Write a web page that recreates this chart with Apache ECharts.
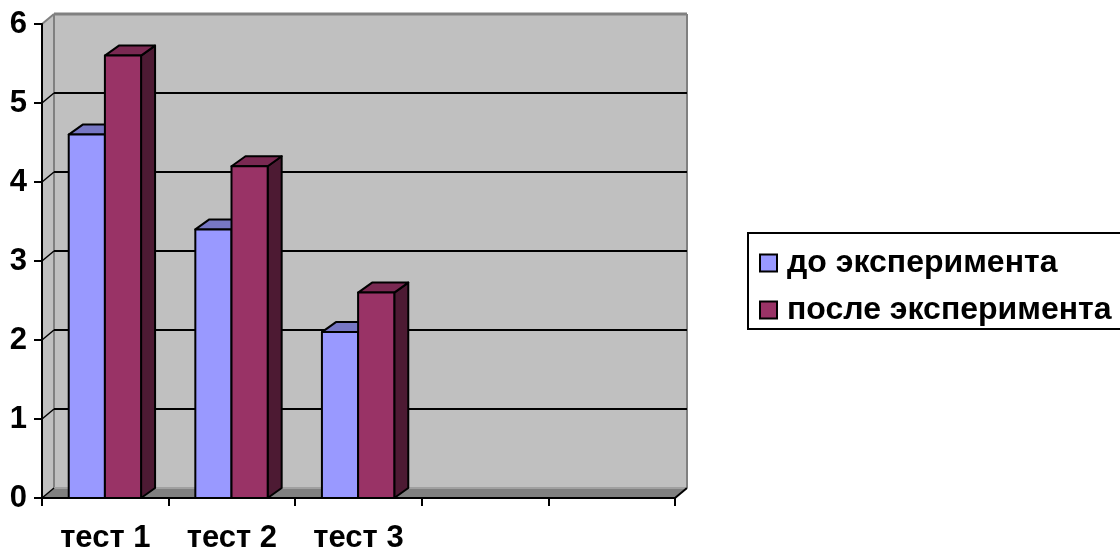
<!DOCTYPE html>
<html>
<head>
<meta charset="utf-8">
<style>html,body{margin:0;padding:0;background:#fff;overflow:hidden}#chart{width:1120px;height:549px}</style>
<script src="https://cdn.jsdelivr.net/npm/echarts@6/dist/echarts.min.js"></script>
</head>
<body>
<div id="chart"></div>
<script>
// Test scores before and after the experiment, drawn as pseudo-3D columns.
const categories = ['тест 1', 'тест 2', 'тест 3', '', ''];
const beforeName = 'до эксперимента';
const afterName = 'после эксперимента';
const beforeValues = [4.6, 3.4, 2.1];
const afterValues = [5.6, 4.2, 2.6];
const yTicks = [0, 1, 2, 3, 4, 5, 6];

const FONT = '"Liberation Sans", Arial, sans-serif';
const WALL_DX = 12, WALL_DY = 10;   // offset of the back wall from the axis plane
const BAR_DX = 14, BAR_DY = 10;     // depth of a column
const GAP_RATIO = 1.5;              // space between clusters, in column widths

const chart = echarts.init(document.getElementById('chart'), null, { renderer: 'canvas' });

function poly(points, fill, stroke, lineWidth) {
  return {
    type: 'polygon',
    shape: { points },
    style: { fill: fill, stroke: stroke || null, lineWidth: lineWidth || 0 }
  };
}
function seg(x1, y1, x2, y2, stroke, lineWidth) {
  return {
    type: 'line',
    shape: { x1, y1, x2, y2 },
    style: { stroke, lineWidth, fill: null }
  };
}

// Back wall, side wall, floor and the gridlines running across them.
function renderWalls(params, api) {
  const cs = params.coordSys;
  const left = cs.x, right = cs.x + cs.width;
  const y0 = api.coord([0, yTicks[0]])[1];
  const yTop = api.coord([0, yTicks[yTicks.length - 1]])[1];
  const children = [
    poly([[left + WALL_DX, yTop - WALL_DY], [right + WALL_DX, yTop - WALL_DY],
          [right + WALL_DX, y0 - WALL_DY], [left + WALL_DX, y0 - WALL_DY]], '#c0c0c0'),
    poly([[left, yTop], [left + WALL_DX, yTop - WALL_DY],
          [left + WALL_DX, y0 - WALL_DY], [left, y0]], '#c0c0c0'),
    poly([[left, y0], [left + WALL_DX, y0 - WALL_DY],
          [right + WALL_DX, y0 - WALL_DY], [right, y0]], '#808080'),
    seg(left, yTop, left + WALL_DX, yTop - WALL_DY, '#808080', 2),
    seg(left + WALL_DX, yTop - WALL_DY, right + WALL_DX, yTop - WALL_DY, '#808080', 3),
    seg(left + WALL_DX, yTop - WALL_DY, left + WALL_DX, y0 - WALL_DY, '#808080', 2),
    seg(right + WALL_DX, yTop - WALL_DY, right + WALL_DX, y0 - WALL_DY, '#808080', 2),
    seg(left + WALL_DX, y0 - WALL_DY, right + WALL_DX, y0 - WALL_DY, '#a0a0a0', 2),
    seg(left, y0, left + WALL_DX, y0 - WALL_DY, '#000', 1.5),
    seg(right, y0, right + WALL_DX, y0 - WALL_DY, '#000', 2)
  ];
  yTicks.slice(1, -1).forEach(function (t) {
    const y = api.coord([0, t])[1];
    children.push(seg(left, y, left + WALL_DX, y - WALL_DY, '#000', 1.5));
    children.push(seg(left + WALL_DX, y - WALL_DY, right + WALL_DX, y - WALL_DY, '#000', 2));
  });
  return { type: 'group', children };
}

// One column: front face, top face and right side, placed in its cluster slot.
function columnRenderer(slot, front, top, side) {
  return function (params, api) {
    const idx = api.value(0);
    const base = api.coord([idx, 0]);
    const head = api.coord([idx, api.value(1)]);
    const w = api.size([1, 0])[0] / (2 + GAP_RATIO);
    const x0 = base[0] - w + slot * w - 0.4;
    const x1 = x0 + w;
    const yb = base[1], yt = head[1];
    const line = { stroke: '#000', lineWidth: 2, lineJoin: 'round' };
    const face = function (pts, fill) {
      return { type: 'polygon', shape: { points: pts }, style: Object.assign({ fill }, line) };
    };
    return {
      type: 'group',
      children: [
        face([[x1, yt], [x1 + BAR_DX, yt - BAR_DY], [x1 + BAR_DX, yb - BAR_DY], [x1, yb]], side),
        face([[x0, yt], [x0 + BAR_DX, yt - BAR_DY], [x1 + BAR_DX, yt - BAR_DY], [x1, yt]], top),
        face([[x0, yt], [x1, yt], [x1, yb], [x0, yb]], front)
      ]
    };
  };
}

const toPairs = function (values) {
  return values.map(function (v, i) { return [i, v]; });
};

chart.setOption({
  animation: false,
  backgroundColor: '#fff',
  grid: { left: 42, top: 24, width: 633, height: 474, containLabel: false, outerBoundsMode: 'none' },
  legend: {
    left: 748,
    top: 233,
    orient: 'vertical',
    padding: [14, 60, 3, 11],
    borderColor: '#000',
    borderWidth: 2,
    itemWidth: 17,
    itemHeight: 17,
    itemGap: 15,
    selectedMode: false,
    textStyle: { fontFamily: FONT, fontWeight: 'bold', fontSize: 32, color: '#000', padding: [0, 0, 0, 5] },
    data: [
      { name: beforeName, icon: 'rect', itemStyle: { color: '#9999ff', borderColor: '#000', borderWidth: 2 } },
      { name: afterName, icon: 'rect', itemStyle: { color: '#993366', borderColor: '#000', borderWidth: 2 } }
    ]
  },
  xAxis: {
    type: 'category',
    data: categories,
    z: 3,
    axisLine: { lineStyle: { color: '#000', width: 2 } },
    axisTick: { show: true, alignWithLabel: false, length: 8, lineStyle: { color: '#000', width: 2 } },
    axisLabel: { interval: 0, margin: 25, fontFamily: FONT, fontWeight: 'bold', fontSize: 31, color: '#000' },
    splitLine: { show: false }
  },
  yAxis: {
    type: 'value',
    min: 0,
    max: 6,
    interval: 1,
    z: 3,
    axisLine: { show: true, lineStyle: { color: '#000', width: 2 } },
    axisTick: { show: true, length: 8, lineStyle: { color: '#000', width: 2 } },
    axisLabel: { margin: 15, padding: [4, 0, 0, 0], fontFamily: FONT, fontWeight: 'bold', fontSize: 31, color: '#000' },
    splitLine: { show: false }
  },
  series: [
    {
      type: 'custom',
      z: 1,
      silent: true,
      clip: false,
      renderItem: renderWalls,
      data: [[0, 0]],
      encode: { x: 0, y: 1 }
    },
    {
      type: 'custom',
      name: beforeName,
      z: 2,
      clip: false,
      itemStyle: { color: '#9999ff' },
      renderItem: columnRenderer(0, '#9999ff', '#7777c4', '#4d4d80'),
      data: toPairs(beforeValues),
      encode: { x: 0, y: 1 }
    },
    {
      type: 'custom',
      name: afterName,
      z: 2,
      clip: false,
      itemStyle: { color: '#993366' },
      renderItem: columnRenderer(1, '#993366', '#7a2952', '#4d1a33'),
      data: toPairs(afterValues),
      encode: { x: 0, y: 1 }
    }
  ]
});
</script>
</body>
</html>
